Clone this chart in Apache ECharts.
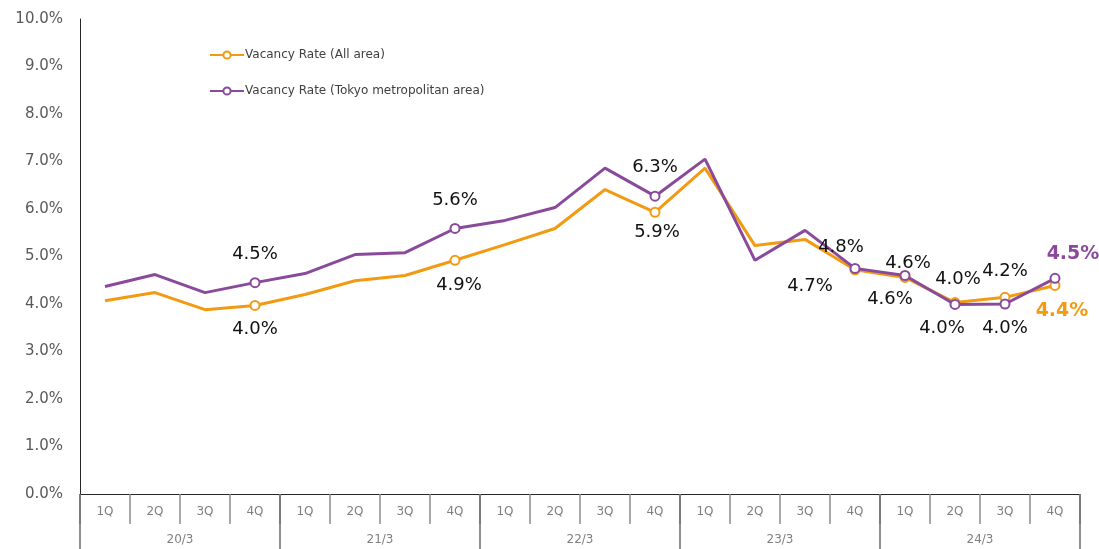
<!DOCTYPE html>
<html>
<head>
<meta charset="utf-8">
<script src="https://cdn.jsdelivr.net/npm/echarts@6/dist/echarts.min.js"></script>
<style>
  html, body { margin: 0; padding: 0; background: #fff; }
  #chart { width: 1099px; height: 549px; }
</style>
</head>
<body>
<div id="chart"></div>
<script>
// data
var quarters = ['1Q', '2Q', '3Q', '4Q']
var years = ['20/3', '21/3', '22/3', '23/3', '24/3']
var allArea = [4.07, 4.24, 3.88, 3.97, 4.20, 4.49, 4.60, 4.92, 5.25, 5.59, 6.41, 5.93, 6.86, 5.23, 5.36, 4.72, 4.56, 4.03, 4.14, 4.39]
var tokyoArea = [4.37, 4.62, 4.24, 4.45, 4.64, 5.04, 5.08, 5.59, 5.76, 6.03, 6.86, 6.27, 7.05, 4.92, 5.55, 4.75, 4.60, 3.99, 4.00, 4.54]
var allLabels = { 3: '4.0%', 7: '4.9%', 11: '5.9%', 15: '4.7%', 16: '4.6%', 17: '4.0%', 18: '4.2%', 19: '4.4%' }
var tokyoLabels = { 3: '4.5%', 7: '5.6%', 11: '6.3%', 15: '4.8%', 16: '4.6%', 17: '4.0%', 18: '4.0%', 19: '4.5%' }

var ORANGE = '#F29A12'
var PURPLE = '#8A4A9B'
var FONT = 'DejaVu Sans, Verdana, sans-serif'

// where each data label sits relative to its point
var allPlace = {
  3: ['bottom', [0, 4]], 7: ['bottom', [4, 6]], 11: ['bottom', [2, 1]],
  15: ['bottom', [-45, -3]], 16: ['bottom', [-15, 2]], 17: ['top', [3, -4]],
  18: ['top', [0, -7]], 19: ['bottom', [7, 6]]
}
var tokyoPlace = {
  3: ['top', [0, -9]], 7: ['top', [0, -9]], 11: ['top', [0, -9]],
  15: ['top', [-14, -2]], 16: ['top', [3, 7]], 17: ['bottom', [-13, 4]],
  18: ['bottom', [0, 5]], 19: ['top', [18, -4]]
}

var categories = []
years.forEach(function(y) {
  quarters.forEach(function(q) { categories.push(y + ' ' + q) })
})

function buildData(values, labels, place, color) {
  return values.map(function(v, i) {
    if (labels[i] === undefined) {
      return { value: v, symbol: 'none' }
    }
    var last = i === values.length - 1
    return {
      value: v,
      symbol: 'emptyCircle',
      label: {
        show: true,
        position: place[i][0],
        offset: place[i][1],
        formatter: labels[i],
        fontFamily: FONT,
        fontSize: last ? 19 : 18,
        fontWeight: last ? 'bold' : 'normal',
        color: last ? color : '#111'
      }
    }
  })
}

var chart = echarts.init(document.getElementById('chart'))
chart.setOption({
  animation: false,
  grid: { left: 80, right: 19, top: 19, bottom: 55 },
  legend: {
    orient: 'vertical',
    left: 204,
    top: 44,
    itemWidth: 34,
    itemHeight: 9,
    itemGap: 24,
    textStyle: { fontFamily: FONT, fontSize: 12, color: '#404040', padding: [0, 0, 0, -4] },
    data: ['Vacancy Rate (All area)', 'Vacancy Rate (Tokyo metropolitan area)']
  },
  xAxis: [{
    type: 'category',
    data: categories,
    position: 'bottom',
    axisLine: { lineStyle: { color: '#262626', width: 1 } },
    axisTick: { show: true, interval: 0, length: 30, lineStyle: { color: '#8c8c8c', width: 1.5 } },
    axisLabel: {
      interval: 0, margin: 12, fontFamily: FONT, fontSize: 12, color: '#7f7f7f',
      formatter: function(v) { return v.split(' ')[1] }
    },
    splitLine: { show: false }
  }, {
    type: 'category',
    data: years,
    position: 'bottom',
    axisLine: { show: false },
    axisTick: { show: true, interval: 0, length: 56, lineStyle: { color: '#6e6e6e', width: 1.5 } },
    axisLabel: { interval: 0, margin: 40, fontFamily: FONT, fontSize: 12, color: '#7f7f7f' },
    splitLine: { show: false }
  }],
  yAxis: {
    type: 'value',
    min: 0,
    max: 10,
    interval: 1,
    axisLine: { show: true, lineStyle: { color: '#262626', width: 1 } },
    axisTick: { show: false },
    splitLine: { show: false },
    axisLabel: {
      margin: 17, fontFamily: FONT, fontSize: 15, color: '#595959',
      formatter: function(v) { return v.toFixed(1) + '%' }
    }
  },
  series: [{
    name: 'Vacancy Rate (All area)',
    type: 'line',
    xAxisIndex: 0,
    symbol: 'emptyCircle',
    symbolSize: 9,
    showAllSymbol: true,
    itemStyle: { color: ORANGE, borderWidth: 1 },
    lineStyle: { color: ORANGE, width: 3 },
    data: buildData(allArea, allLabels, allPlace, ORANGE),
    z: 2
  }, {
    name: 'Vacancy Rate (Tokyo metropolitan area)',
    type: 'line',
    xAxisIndex: 0,
    symbol: 'emptyCircle',
    symbolSize: 9,
    showAllSymbol: true,
    itemStyle: { color: PURPLE, borderWidth: 1 },
    lineStyle: { color: PURPLE, width: 3 },
    data: buildData(tokyoArea, tokyoLabels, tokyoPlace, PURPLE),
    z: 3
  }]
})
</script>
</body>
</html>
